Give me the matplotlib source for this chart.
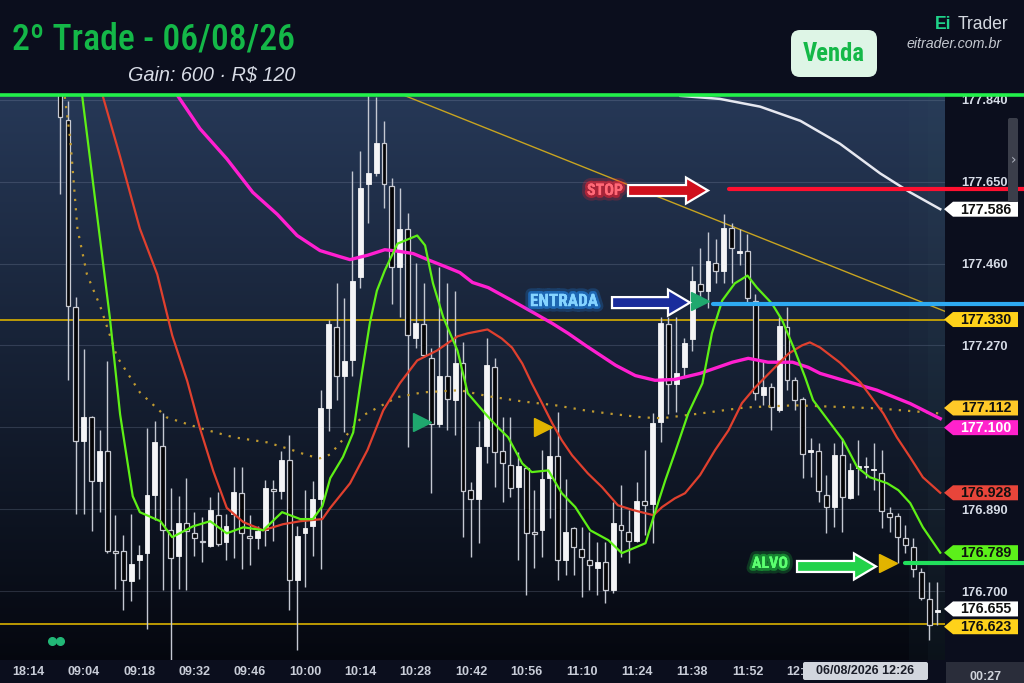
import numpy as np
import matplotlib
matplotlib.use("Agg")
import matplotlib.pyplot as plt
from matplotlib.patches import Polygon, FancyArrow, FancyBboxPatch
from matplotlib.font_manager import fontManager, FontProperties
import matplotlib.patheffects as pe

# ---------------- data ----------------
opens = [177.907, 177.794, 177.358, 177.048, 177.105, 176.955, 177.025, 176.790, 176.793, 176.723,
         176.771, 176.788, 176.922, 177.036, 176.841, 176.781, 176.859, 176.834, 176.816, 176.804,
         176.876, 176.813, 176.879, 176.927, 176.825, 176.823, 176.841, 176.934, 176.932, 177.003,
         176.725, 176.834, 176.850, 176.913, 177.124, 177.312, 177.200, 177.237, 177.428, 177.645,
         177.671, 177.740, 177.641, 177.453, 177.539, 177.288, 177.319, 177.240, 177.087, 177.198,
         177.143, 177.228, 176.934, 176.913, 177.036, 177.221, 177.025, 176.992, 176.941, 176.985,
         176.834, 176.841, 176.962, 177.013, 176.771, 176.846, 176.797, 176.771, 176.753, 176.767,
         176.702, 176.853, 176.836, 176.816, 176.908, 176.901, 177.092, 177.319, 177.180, 177.219,
         177.284, 177.412, 177.397, 177.462, 177.442, 177.543, 177.485, 177.490, 177.374, 177.154,
         177.173, 177.119, 177.312, 177.189, 177.145, 177.022, 177.025, 176.922, 176.895, 177.015,
         176.915, 176.985, 176.987, 176.980, 176.973, 176.881, 176.874, 176.823, 176.802, 176.744,
         176.681, 176.651]
highs = [177.930, 177.836, 177.383, 177.261, 177.107, 177.073, 177.233, 176.876, 176.829, 176.879,
         176.806, 177.078, 177.094, 177.112, 176.939, 176.920, 176.962, 176.883, 176.871, 176.918,
         176.929, 176.879, 176.987, 176.987, 176.876, 176.850, 176.957, 176.957, 177.025, 177.062,
         176.850, 176.934, 176.955, 177.166, 177.330, 177.414, 177.379, 177.675, 177.722, 177.856,
         177.847, 177.791, 177.659, 177.636, 177.578, 177.462, 177.414, 177.265, 177.451, 177.414,
         177.397, 177.279, 176.953, 177.094, 177.286, 177.240, 177.105, 177.105, 177.022, 176.990,
         176.934, 177.027, 177.080, 177.115, 176.960, 176.848, 176.848, 176.836, 176.813, 176.813,
         176.906, 176.946, 176.888, 176.953, 177.027, 177.112, 177.337, 177.335, 177.335, 177.286,
         177.455, 177.495, 177.534, 177.516, 177.576, 177.553, 177.539, 177.529, 177.390, 177.231,
         177.182, 177.335, 177.360, 177.196, 177.150, 177.055, 177.043, 176.969, 177.043, 177.055,
         176.996, 177.050, 177.010, 177.043, 177.027, 176.895, 176.881, 176.853, 176.823, 176.753,
         176.721, 176.721]
lows = [177.622, 177.189, 176.879, 176.879, 176.839, 176.883, 176.788, 176.704, 176.656, 176.677,
        176.729, 176.613, 176.866, 176.702, 176.540, 176.704, 176.702, 176.781, 176.767, 176.802,
        176.804, 176.771, 176.776, 176.750, 176.760, 176.797, 176.804, 176.816, 176.913, 176.656,
        176.563, 176.709, 176.781, 176.750, 177.071, 177.143, 177.068, 177.200, 177.404, 177.553,
        177.664, 177.588, 177.367, 177.335, 177.034, 177.265, 177.242, 176.927, 177.080, 177.073,
        177.062, 176.825, 176.779, 176.811, 176.996, 176.941, 176.906, 176.918, 176.771, 176.690,
        176.753, 176.779, 176.869, 176.725, 176.737, 176.737, 176.686, 176.702, 176.690, 176.672,
        176.695, 176.779, 176.764, 176.813, 176.829, 176.811, 177.045, 177.110, 177.115, 177.200,
        177.258, 177.374, 177.356, 177.414, 177.414, 177.414, 177.456, 177.367, 177.143, 177.131,
        177.073, 177.115, 177.166, 177.119, 176.962, 176.964, 176.906, 176.834, 176.848, 176.836,
        176.913, 176.922, 176.962, 176.934, 176.846, 176.836, 176.764, 176.788, 176.732, 176.679,
        176.586, 176.621]
closes = [177.801, 177.362, 177.048, 177.105, 176.955, 177.025, 176.793, 176.788, 176.725, 176.762,
          176.783, 176.922, 177.045, 176.841, 176.776, 176.859, 176.839, 176.823, 176.813, 176.888,
          176.809, 176.850, 176.929, 176.834, 176.823, 176.839, 176.939, 176.932, 177.003, 176.725,
          176.827, 176.846, 176.913, 177.124, 177.319, 177.200, 177.233, 177.419, 177.636, 177.671,
          177.740, 177.645, 177.453, 177.541, 177.293, 177.321, 177.247, 177.087, 177.198, 177.145,
          177.228, 176.932, 176.913, 177.034, 177.224, 177.022, 176.996, 176.939, 176.990, 176.834,
          176.832, 176.960, 177.013, 176.771, 176.836, 176.802, 176.779, 176.760, 176.767, 176.702,
          176.857, 176.841, 176.816, 176.908, 176.899, 177.089, 177.323, 177.180, 177.207, 177.275,
          177.419, 177.397, 177.465, 177.442, 177.543, 177.495, 177.488, 177.381, 177.159, 177.173,
          177.126, 177.314, 177.189, 177.143, 177.018, 177.027, 176.932, 176.895, 177.015, 176.918,
          176.980, 176.987, 176.990, 176.983, 176.885, 176.871, 176.825, 176.806, 176.750, 176.684,
          176.621, 176.655]

time_ticks = [-4, 3, 10, 17, 24, 31, 38, 45, 52, 59, 66, 73, 80, 87, 94]
time_labels = ["18:14", "09:04", "09:18", "09:32", "09:46", "10:00", "10:14", "10:28",
               "10:42", "10:56", "11:10", "11:24", "11:38", "11:52", "12:06"]
price_ticks = [176.700, 176.890, 177.080, 177.270, 177.460, 177.650, 177.840]
hidden_ticks = [177.080]   # label covered by the price tags in the reference

fast_idx = [2.8, 6.3, 7.6, 9.2, 10.1, 12.7, 14.2, 16.8, 19.0, 21.1, 23.2, 25.7, 28.1, 30.4, 32.0, 33.2,
            34.2, 35.8, 37.1, 38.2, 39.2, 40.1, 41.1, 42.7, 45.2, 46.2, 47.2, 48.5, 50.3, 51.6, 53.8,
            55.4, 56.7, 58.5, 59.7, 61.8, 63.5, 65.2, 67.1, 69.4, 71.1, 74.1, 75.1, 76.6, 77.8, 79.5,
            81.3, 82.5, 83.8, 85.4, 87.0, 88.2, 90.1, 91.4, 93.0, 94.3, 95.3, 97.5, 99.1, 100.9, 102.5,
            104.7, 106.1, 107.6, 109.2, 111.4]
fast_val = [177.849, 177.335, 177.110, 176.920, 176.883, 176.862, 176.825, 176.850, 176.862, 176.834,
            176.848, 176.841, 176.883, 176.867, 176.867, 176.897, 176.962, 177.011, 177.068, 177.205,
            177.321, 177.397, 177.444, 177.506, 177.525, 177.502, 177.414, 177.335, 177.258, 177.159,
            177.112, 177.080, 177.057, 176.996, 176.976, 176.980, 176.927, 176.895, 176.841, 176.818,
            176.788, 176.811, 176.871, 176.957, 177.020, 177.112, 177.182, 177.298, 177.374, 177.414,
            177.432, 177.404, 177.367, 177.328, 177.258, 177.196, 177.143, 177.089, 177.050, 176.987,
            176.964, 176.950, 176.934, 176.904, 176.848, 176.789]

mid_idx = [5.4, 7.6, 10.1, 12.3, 14.2, 16.1, 17.7, 19.4, 21.1, 23.2, 25.7, 28.2, 30.4, 33.2, 34.2, 36.7,
           38.9, 40.9, 43.0, 45.2, 47.7, 50.3, 51.6, 54.1, 55.9, 57.2, 58.5, 59.7, 61.0, 62.3, 63.5,
           64.8, 66.8, 68.6, 70.6, 72.5, 75.1, 76.2, 77.8, 79.1, 81.0, 82.9, 84.6, 86.3, 88.0, 90.1,
           92.2, 93.9, 94.9, 96.2, 98.7, 101.3, 104.2, 105.9, 107.6, 109.2, 111.4]
mid_val = [177.849, 177.708, 177.541, 177.435, 177.293, 177.187, 177.078, 176.978, 176.893, 176.860,
           176.841, 176.855, 176.862, 176.867, 176.893, 176.950, 177.027, 177.119, 177.182, 177.235,
           177.258, 177.291, 177.298, 177.307, 177.286, 177.265, 177.228, 177.182, 177.136, 177.089,
           177.050, 177.015, 176.973, 176.941, 176.899, 176.888, 176.876, 176.895, 176.915, 176.927,
           176.969, 177.027, 177.073, 177.136, 177.173, 177.212, 177.251, 177.270, 177.277, 177.265,
           177.230, 177.184, 177.112, 177.057, 177.010, 176.964, 176.928]

slow_idx = [14.9, 17.7, 21.1, 24.4, 27.5, 30.0, 32.9, 35.4, 36.7, 38.9, 41.1, 43.0, 44.7, 46.8, 49.0,
            50.6, 52.2, 54.2, 57.2, 60.1, 62.3, 64.3, 66.5, 70.3, 72.8, 75.3, 77.8, 81.0, 82.9, 85.1,
            87.1, 89.6, 92.7, 94.7, 96.2, 103.4, 107.6, 111.4]
slow_val = [177.849, 177.773, 177.703, 177.625, 177.574, 177.525, 177.490, 177.476, 177.469, 177.479,
            177.492, 177.488, 177.483, 177.467, 177.451, 177.439, 177.416, 177.404, 177.374, 177.344,
            177.321, 177.298, 177.270, 177.224, 177.200, 177.189, 177.191, 177.205, 177.217, 177.231,
            177.240, 177.231, 177.231, 177.219, 177.205, 177.166, 177.135, 177.100]

vwap_idx = [0.6, 1.3, 2.2, 3.4, 5.1, 7.2, 10.1, 13.5, 17.7, 21.9, 26.2, 29.1, 31.3, 32.9, 34.2, 38.4,
            42.7, 45.9, 50.6, 54.2, 58.5, 62.7, 66.5, 69.4, 73.7, 76.2, 81.0, 86.7, 93.0, 103.4, 111.4]
vwap_val = [177.847, 177.747, 177.541, 177.435, 177.360, 177.244, 177.161, 177.103, 177.078, 177.057,
            177.045, 177.029, 177.015, 177.008, 177.017, 177.108, 177.150, 177.161, 177.166, 177.152,
            177.140, 177.131, 177.119, 177.112, 177.103, 177.101, 177.112, 177.126, 177.131, 177.124,
            177.112]

long_idx = [78.5, 83.5, 88.6, 93.7, 98.7, 103.8, 107.6, 111.4]
long_val = [177.849, 177.842, 177.824, 177.791, 177.738, 177.669, 177.625, 177.586]

trend_idx = [43.7, 112.0]
trend_val = [177.849, 177.349]

hlines = [177.330, 176.623]
stop_price, stop_from = 177.634, 84.6
entry_price, entry_from = 177.367, 82.7
target_price, target_from = 176.764, 107.0

buy_sig_idx = [45.8, 81.0]
buy_sig_val = [177.092, 177.374]
warn_sig_idx = [61.1, 104.8]
warn_sig_val = [177.080, 176.764]
dots_idx = [-1.0, 0.0]
dots_val = [176.585, 176.585]

tag_prices = [177.586, 177.330, 177.112, 177.100, 176.928, 176.789, 176.655, 176.623]
tag_texts = ["177.586", "177.330", "177.112", "177.100", "176.928", "176.789", "176.655", "176.623"]
tag_fc = ["#ffffff", "#ffd21a", "#ffc928", "#ff22cc", "#e8453a", "#5cf01a", "#ffffff", "#ffd21a"]
tag_tc = ["#111111", "#111111", "#111111", "#ffffff", "#111111", "#111111", "#111111", "#111111"]
tag_dy = [0, 0, -5.5, 9, 0, 0, -1.5, 2.5]

# ---------------- fonts ----------------
def pick_condensed(weight):
    pref = ["Liberation Sans Narrow", "Roboto Condensed", "Noto Sans", "DejaVu Sans",
            "Open Sans", "Roboto", "Lato", "Liberation Sans"]
    best, bs = None, 1e9
    for f in fontManager.ttflist:
        if f.name not in pref or f.style != "normal":
            continue
        fn = f.fname.lower()
        if not (f.stretch in ("condensed", "semi-condensed") or "narrow" in fn or "condensed" in fn):
            continue
        w = f.weight
        if not isinstance(w, (int, float)):
            w = {"normal": 400, "regular": 400, "bold": 700, "medium": 500,
                 "semibold": 600, "light": 300}.get(str(w).lower(), 400)
        s = pref.index(f.name) * 10 + abs(w - weight) / 100.0
        if "extracondensed" in fn or "semicondensed" in fn or "ultracondensed" in fn:
            s += 3
        if s < bs:
            bs, best = s, f.fname
    if best is None:
        return FontProperties(family=["Roboto", "DejaVu Sans"],
                              weight="bold" if weight >= 600 else "normal")
    return FontProperties(fname=best)

FP_TITLE = pick_condensed(500)
FP_BOLD = pick_condensed(650)
SANS = ["Liberation Sans", "DejaVu Sans"]

# ---------------- figure ----------------
W, H = 1024, 683
fig = plt.figure(figsize=(W / 100, H / 100), dpi=100)
fig.patch.set_facecolor("#0b0e1d")

def fx(p):
    return p / W

def fy(p):
    return 1 - p / H

ax = fig.add_axes([0, fy(660), fx(945), fy(95) - fy(660)])
XL = (-7.6, 112.0)
YL = (176.540, 177.851)

top = np.array([0.15, 0.22, 0.34])
bot = np.array([0.02, 0.03, 0.06])
g = np.linspace(0, 1, 256)[:, None, None]
img = bot + (top - bot) * g
ax.imshow(img, extent=[XL[0], XL[1], YL[0], YL[1]], origin="lower", aspect="auto",
          zorder=0, interpolation="bilinear")
ax.set_xlim(*XL)
ax.set_ylim(*YL)
for s in ax.spines.values():
    s.set_visible(False)

ax.yaxis.tick_right()
ax.set_yticks(price_ticks)
ax.set_yticklabels(["" if v in hidden_ticks else f"{v:.3f}" for v in price_ticks])
ax.tick_params(axis="y", length=0, pad=12, labelsize=9.3, labelcolor="#d6dbe6")
ax.set_xticks(time_ticks)
ax.set_xticklabels(time_labels)
ax.tick_params(axis="x", length=0, pad=4, labelsize=9, labelcolor="#c9cdd8")
for lb in ax.get_xticklabels() + ax.get_yticklabels():
    lb.set_fontfamily(SANS)
    lb.set_fontweight("bold")
ax.grid(axis="y", color="#9aa6c0", alpha=0.22, lw=0.8)
ax.set_axisbelow(True)

# volume profile hint
ax.axvspan(107.5, 112.0, color="#3d6068", alpha=0.07, lw=0, zorder=1)
ax.axvspan(109.8, 112.0, color="#3d6068", alpha=0.07, lw=0, zorder=1)

# horizontal levels
for h in hlines:
    ax.axhline(h, color="#d8b000", lw=1.2, zorder=2)
ax.plot(trend_idx, trend_val, color="#c8a420", lw=1.0, zorder=2)

# candles
x = np.arange(len(opens))
o = np.array(opens); c = np.array(closes); hi = np.array(highs); lo = np.array(lows)
ax.vlines(x, lo, hi, color="#c4c8d2", lw=1.0, zorder=3)
bull = c >= o
height = np.maximum(np.abs(c - o), 0.004)
bottom = np.minimum(o, c)
ax.bar(x[bull], height[bull], bottom=bottom[bull], width=0.62, color="#f4f4f6",
       edgecolor="#f4f4f6", lw=0.6, zorder=4)
ax.bar(x[~bull], height[~bull], bottom=bottom[~bull], width=0.62, color="#050507",
       edgecolor="#c8cad2", lw=0.9, zorder=4)

# moving averages
ax.plot(vwap_idx, vwap_val, color="#c09a30", lw=1.6, ls=(0, (1, 3.2)), zorder=5)
ax.plot(long_idx, long_val, color="#e6e8f0", lw=1.8, zorder=5)
ax.plot(slow_idx, slow_val, color="#ff1fd0", lw=2.4, zorder=5)
ax.plot(mid_idx, mid_val, color="#e0402e", lw=1.6, zorder=5)
ax.plot(fast_idx, fast_val, color="#5ef016", lw=1.6, zorder=6)

# trade levels (extend into price-scale area)
ax.plot([stop_from, 122], [stop_price] * 2, color="#ff1030", lw=3.0, zorder=7,
        clip_on=False, solid_capstyle="round")
ax.plot([entry_from, 122], [entry_price] * 2, color="#2eaaf2", lw=3.0, zorder=7,
        clip_on=False, solid_capstyle="round")
ax.plot([target_from, 122], [target_price] * 2, color="#22e05c", lw=3.0, zorder=7,
        clip_on=False, solid_capstyle="round")

# signals
ax.plot(buy_sig_idx, buy_sig_val, ls="none", marker=">", ms=13, color="#1fa86e", zorder=8)
ax.plot(warn_sig_idx, warn_sig_val, ls="none", marker=">", ms=13, color="#e2b400", zorder=8)
ax.plot(dots_idx, dots_val, ls="none", marker="o", ms=5.5, color="#22b877", zorder=8, clip_on=False)

# ---------------- overlay (pixel coords) ----------------
ov = fig.add_axes([0, 0, 1, 1], zorder=10)
ov.set_xlim(0, W)
ov.set_ylim(H, 0)
ov.axis("off")
ov.patch.set_alpha(0)

def py(p):
    d = ax.transData.transform((0, p))
    return ov.transData.inverted().transform(d)[1]

renderer = fig.canvas.get_renderer()

def fit(t, target_w):
    bb = t.get_window_extent(renderer)
    if bb.width > 0:
        t.set_fontsize(t.get_fontsize() * target_w / bb.width)

# top green line
ov.plot([0, W], [95, 95], color="#22f04a", lw=2.6, solid_capstyle="butt")

# price tags
for p, t, fc, tc, dy in zip(tag_prices, tag_texts, tag_fc, tag_tc, tag_dy):
    yy = py(p) + dy
    hh = 7.5
    ov.add_patch(Polygon([(944, yy), (953, yy - hh), (1018, yy - hh), (1018, yy + hh), (953, yy + hh)],
                         closed=True, fc=fc, ec="none"))
    ov.text(986, yy + 0.5, t, ha="center", va="center", fontsize=10.2, color=tc,
            fontweight="bold", family=SANS)

# scroll thumb
ov.add_patch(FancyBboxPatch((1008, 118), 10, 84, boxstyle="round,pad=0,rounding_size=2",
                            fc="#3b3e4a", ec="none"))
ov.text(1013, 160, "›", ha="center", va="center", fontsize=10, color="#b0b4c0")

# trade annotations
def glow(col):
    return [pe.withStroke(linewidth=8, foreground=col, alpha=0.22),
            pe.withStroke(linewidth=4, foreground=col, alpha=0.5), pe.Normal()]

ys = py(stop_price)
t = ov.text(605, ys + 2, "STOP", ha="center", va="center", color="#ff6a78",
            fontproperties=FP_BOLD, path_effects=glow("#ff2030"))
t.set_fontsize(13); fit(t, 36)
ov.add_patch(FancyArrow(628, ys + 2, 80, 0, width=11, head_width=26, head_length=22,
                        length_includes_head=True, fc="#d0101c", ec="white", lw=1.6))
ye = py(entry_price)
t = ov.text(564, ye - 2, "ENTRADA", ha="center", va="center", color="#86d4ff",
            fontproperties=FP_BOLD, path_effects=glow("#2090ff"))
t.set_fontsize(13); fit(t, 68)
ov.add_patch(FancyArrow(612, ye - 1, 78, 0, width=11, head_width=26, head_length=22,
                        length_includes_head=True, fc="#1a2c9c", ec="white", lw=1.6))
yt = py(target_price)
t = ov.text(770, yt, "ALVO", ha="center", va="center", color="#5cff70",
            fontproperties=FP_BOLD, path_effects=glow("#20d040"))
t.set_fontsize(13); fit(t, 36)
ov.add_patch(FancyArrow(797, yt + 3, 79, 0, width=11, head_width=26, head_length=22,
                        length_includes_head=True, fc="#22d24a", ec="white", lw=1.6))

# bottom time boxes
ov.add_patch(FancyBboxPatch((803, 662), 125, 18, boxstyle="round,pad=0,rounding_size=2",
                            fc="#d2d6de", ec="none"))
ov.text(865.5, 671.5, "06/08/2026 12:26", ha="center", va="center", fontsize=9, fontweight="bold",
        color="#1a1d28", family=SANS)
ov.add_patch(FancyBboxPatch((946, 662), 78, 24, boxstyle="square,pad=0", fc="#2a2d3a", ec="none"))
ov.text(985, 677, "00:27", ha="center", va="center", fontsize=9, fontweight="bold",
        color="#d0d4dc", family=SANS)

# header
t = ov.text(12, 50, "2º Trade - 06/08/26", ha="left", va="baseline", color="#14b848",
            fontproperties=FP_TITLE)
t.set_fontsize(29); fit(t, 283)
t = ov.text(295, 81, "Gain: 600 · R$ 120", ha="right", va="baseline", fontsize=13.5,
            style="italic", color="#d8dce6", family=SANS)
fit(t, 168)
ov.add_patch(FancyBboxPatch((791, 30), 86, 47, boxstyle="round,pad=0,rounding_size=9",
                            fc="#def5e6", ec="none"))
t = ov.text(834, 54, "Venda", ha="center", va="center", color="#14b848", fontproperties=FP_BOLD)
t.set_fontsize(20); fit(t, 62)
t = ov.text(1008, 29, "Trader", ha="right", va="baseline", fontsize=12.5, color="#d4d8e0",
            family=SANS)
fit(t, 51)
ov.text(951, 29, "Ei", ha="right", va="baseline", fontsize=t.get_fontsize(), fontweight="bold",
        color="#1fd38a", family=SANS)
t = ov.text(1002, 48, "eitrader.com.br", ha="right", va="baseline", fontsize=10, style="italic",
            color="#c4c8d0", family=SANS)
fit(t, 96)

fig.savefig("out.png", dpi=100, facecolor=fig.get_facecolor())
